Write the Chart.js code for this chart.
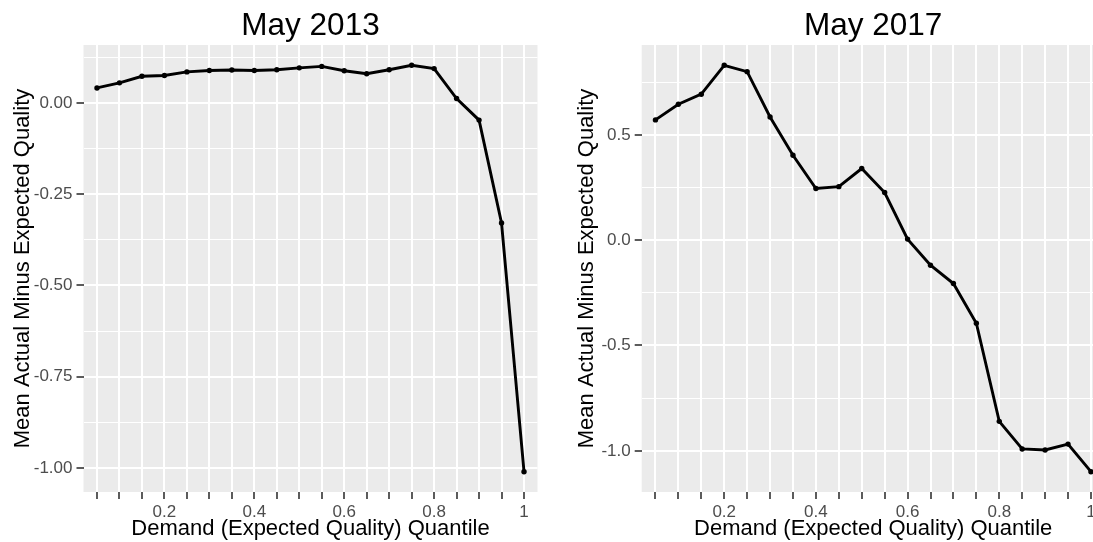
<!DOCTYPE html>
<html>
<head>
<meta charset="utf-8">
<script src="https://cdn.jsdelivr.net/npm/chart.js@4"></script>
<style>
  html, body { margin: 0; padding: 0; background: #ffffff; }
  #wrap { position: relative; width: 1093px; height: 542px; overflow: hidden; background: #ffffff; }
  canvas { position: absolute; top: 0; }
  #c2013 { left: 0; width: 546px; height: 542px; }
  #c2017 { left: 565px; width: 548px; height: 542px; }
</style>
</head>
<body>
<div id="wrap">
  <canvas id="c2013" width="546" height="542"></canvas>
  <canvas id="c2017" width="548" height="542"></canvas>
</div>
<script>
// Quantiles of demand (expected quality)
const quantiles = [0.05, 0.10, 0.15, 0.20, 0.25, 0.30, 0.35, 0.40, 0.45, 0.50,
                   0.55, 0.60, 0.65, 0.70, 0.75, 0.80, 0.85, 0.90, 0.95, 1.00];

// Mean actual minus expected quality per quantile
const may2013 = [0.041, 0.055, 0.073, 0.075, 0.085, 0.089, 0.090, 0.089, 0.091, 0.096,
                 0.100, 0.088, 0.080, 0.091, 0.103, 0.094, 0.012, -0.047, -0.329, -1.010];
const may2017 = [0.571, 0.645, 0.693, 0.830, 0.800, 0.585, 0.403, 0.245, 0.254, 0.340,
                 0.226, 0.005, -0.119, -0.206, -0.394, -0.860, -0.991, -0.996, -0.968, -1.099];

// Axis tick labels
const xTickValues = [0.2, 0.4, 0.6, 0.8, 1.0];
const xTickLabels = ['0.2', '0.4', '0.6', '0.8', '1'];
const y2013TickValues = [0, -0.25, -0.5, -0.75, -1];
const y2013TickLabels = ['0.00', '-0.25', '-0.50', '-0.75', '-1.00'];
const y2017TickValues = [0.5, 0, -0.5, -1];
const y2017TickLabels = ['0.5', '0.0', '-0.5', '-1.0'];

const FONT = "'Liberation Sans', Arial, Helvetica, sans-serif";
Chart.defaults.font.family = FONT;

const PANEL_BG = '#EBEBEB';
const TICK_TEXT = '#4D4D4D';
const TICK_MARK = '#333333';

// grey panel behind the grid
const panelBackground = {
  id: 'panelBackground',
  beforeDraw(chart) {
    const { ctx, chartArea: a } = chart;
    ctx.save();
    ctx.fillStyle = PANEL_BG;
    ctx.fillRect(a.left, a.top, a.right - a.left, a.bottom - a.top);
    ctx.restore();
  }
};

// major ticks plus minor ticks halfway between them (inside the range)
function yTicks(values, labels, lo, hi) {
  const pairs = values.map((v, i) => ({ value: v, text: labels[i], minor: false }));
  pairs.sort((a, b) => a.value - b.value);
  const step = pairs[1].value - pairs[0].value;
  const out = pairs.slice();
  for (let v = pairs[0].value - step / 2; v <= pairs[pairs.length - 1].value + step / 2 + 1e-9; v += step) {
    if (v > lo && v < hi) out.push({ value: v, text: '', minor: true });
  }
  return out.sort((a, b) => a.value - b.value);
}

function xLabel(q) {
  const i = xTickValues.findIndex(v => Math.abs(v - q) < 1e-9);
  return i >= 0 ? xTickLabels[i] : '';
}

function makePanel(id, titleText, values, yVals, yLabs, yAxisWidth, yTitleOffset, rightPad) {
  const lo0 = Math.min(...values), hi0 = Math.max(...values);
  const pad = (hi0 - lo0) * 0.05;
  const yMin = lo0 - pad, yMax = hi0 + pad;
  const step = quantiles[1] - quantiles[0];
  const xMin = quantiles[0] - 0.6 * step;
  const xMax = quantiles[quantiles.length - 1] + 0.6 * step;

  new Chart(document.getElementById(id), {
    type: 'line',
    data: {
      datasets: [{
        data: quantiles.map((q, i) => ({ x: q, y: values[i] })),
        borderColor: '#000000',
        backgroundColor: '#000000',
        borderWidth: 2.9,
        pointRadius: 2.7,
        pointBorderWidth: 0,
        pointBackgroundColor: '#000000',
        tension: 0,
        fill: false
      }]
    },
    options: {
      responsive: false,
      animation: false,
      events: [],
      layout: { padding: { left: 0, right: rightPad, top: 0, bottom: 0 } },
      plugins: {
        legend: { display: false },
        tooltip: { enabled: false },
        title: {
          display: true,
          text: titleText,
          fullSize: false,
          color: '#000000',
          font: { size: 31.5, weight: 'normal', lineHeight: 1.2 },
          padding: { top: 7.2, bottom: 0 }
        }
      },
      scales: {
        x: {
          type: 'linear',
          min: xMin,
          max: xMax,
          bounds: 'data',
          afterBuildTicks: s => { s.ticks = quantiles.map(q => ({ value: q, text: xLabel(q) })); },
          afterFit: s => { s.height = 50; },
          ticks: {
            autoSkip: false, maxRotation: 0, minRotation: 0, padding: 3,
            color: TICK_TEXT, font: { size: 17 },
            callback: (v, i, t) => t[i].text
          },
          grid: { color: '#FFFFFF', lineWidth: 2, drawTicks: true, tickLength: 7, tickColor: TICK_MARK, tickWidth: 1.6 },
          border: { display: false },
          title: {
            display: true, text: 'Demand (Expected Quality) Quantile', color: '#000000',
            font: { size: 22, lineHeight: 1 }, padding: { top: 0, bottom: 2 }
          }
        },
        y: {
          type: 'linear',
          min: yMin,
          max: yMax,
          bounds: 'data',
          afterBuildTicks: s => { s.ticks = yTicks(yVals, yLabs, yMin, yMax); },
          afterFit: s => { s.width = yAxisWidth; },
          ticks: {
            autoSkip: false, padding: 4,
            color: TICK_TEXT, font: { size: 17 },
            callback: (v, i, t) => t[i].text
          },
          grid: {
            color: '#FFFFFF',
            lineWidth: c => (c.tick && c.tick.minor ? 1 : 2),
            drawTicks: true, tickLength: 7,
            tickColor: c => (c.tick && c.tick.minor ? 'rgba(0,0,0,0)' : TICK_MARK),
            tickWidth: 1.6
          },
          border: { display: false },
          title: {
            display: true, text: 'Mean Actual Minus Expected Quality', color: '#000000',
            font: { size: 22, lineHeight: 1 }, padding: { top: yTitleOffset - 11, bottom: 0 }
          }
        }
      }
    },
    plugins: [panelBackground]
  });
}

makePanel('c2013', 'May 2013', may2013, y2013TickValues, y2013TickLabels, 83.5, 22.5, 8.5);
makePanel('c2017', 'May 2017', may2017, y2017TickValues, y2017TickLabels, 76.7, 22.2, 8.3);
</script>
</body>
</html>
